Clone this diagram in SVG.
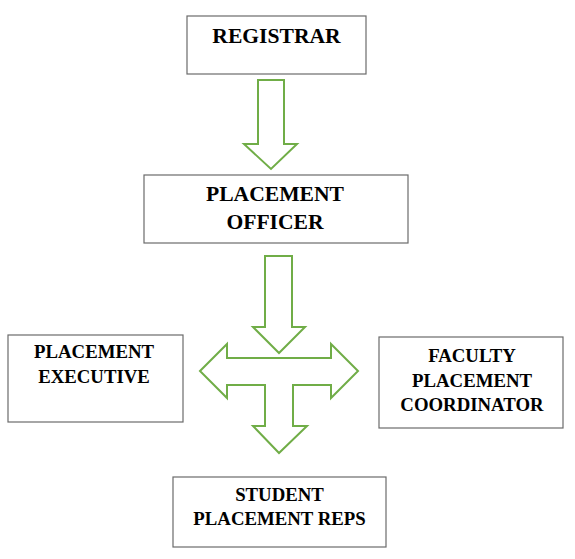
<svg xmlns="http://www.w3.org/2000/svg" width="575" height="559" viewBox="0 0 575 559">
<style>
.box{fill:#fff;stroke:#6b6b6b;stroke-width:1.2}
.t{font-family:"Liberation Serif","Times New Roman",serif;font-weight:bold;fill:#000;text-anchor:middle}
.big{font-size:21.6px}
.sm{font-size:18.8px}
.arr{fill:#fff;stroke:#70AD47;stroke-width:2;stroke-linejoin:miter}
</style>
<rect width="575" height="559" fill="#fff"/>
<g id="connectors">
<polygon class="arr" points="258,80 284,80 284,144 297,144 271,169 244,144 258,144"/>
<polygon class="arr" points="265,256 292,256 292,327 305,327 279,353 253,327 265,327"/>
<polygon class="arr" points="200,371 227,344 227,358 331,358 331,344 358,371 331,398 331,385 293,385 293,426 307,426 279,453 253,426 265,426 265,385 227,385 227,398"/>
</g>
<g id="registrar">
<rect class="box" x="187" y="16" width="179" height="58"/>
<text class="t big" x="276.5" y="43">REGISTRAR</text>
</g>
<g id="placement-officer">
<rect class="box" x="144" y="175" width="264" height="68"/>
<text class="t big" x="275" y="201">PLACEMENT</text>
<text class="t big" x="275" y="229">OFFICER</text>
</g>
<g id="placement-executive">
<rect class="box" x="8" y="335" width="175" height="87"/>
<text class="t sm" x="94" y="358">PLACEMENT</text>
<text class="t sm" x="94" y="383">EXECUTIVE</text>
</g>
<g id="faculty-placement-coordinator">
<rect class="box" x="379" y="337" width="184" height="91"/>
<text class="t sm" x="472" y="362">FACULTY</text>
<text class="t sm" x="472" y="387">PLACEMENT</text>
<text class="t sm" x="472" y="411">COORDINATOR</text>
</g>
<g id="student-placement-reps">
<rect class="box" x="173" y="477" width="213" height="70"/>
<text class="t sm" x="279.5" y="501">STUDENT</text>
<text class="t sm" x="279.5" y="525">PLACEMENT REPS</text>
</g>
</svg>
